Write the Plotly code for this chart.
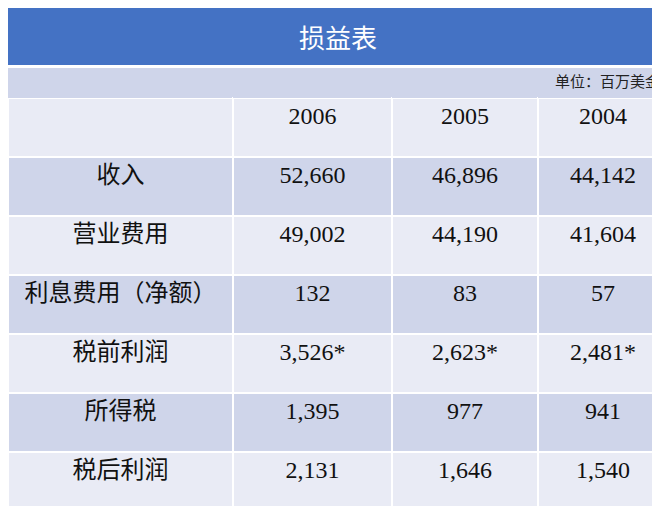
import plotly.graph_objects as go

title = "损益表"
unit = "单位：百万美金"
years = ["2006", "2005", "2004"]
items = ["收入", "营业费用", "利息费用（净额）", "税前利润", "所得税", "税后利润"]
v2006 = ["52,660", "49,002", "132", "3,526*", "1,395", "2,131"]
v2005 = ["46,896", "44,190", "83", "2,623*", "977", "1,646"]
v2004 = ["44,142", "41,604", "57", "2,481*", "941", "1,540"]

dark = "#CFD5EA"
light = "#E9EBF5"
row_fill = [light] + [dark if i % 2 == 0 else light for i in range(len(items))]

cols = [[""] + items, years[:1] + v2006, years[1:2] + v2005, years[2:] + v2004]

fig = go.Figure(go.Table(
    domain=dict(x=[0, 1], y=[0, 1 - 60 / 506]),
    columnwidth=[225, 159, 146, 130],
    header=dict(values=["", "", "", unit], height=30, fill_color=dark,
                line=dict(color=dark, width=0), align=["center", "center", "center", "right"],
                font=dict(size=15, color="#222", family="Liberation Serif, Noto Sans CJK SC")),
    cells=dict(values=cols, height=59, fill_color=[row_fill] * 4,
               line=dict(color="white", width=1.5), align="center",
               font=dict(size=24, color="#111", family="Liberation Serif, Noto Sans CJK SC")),
))

fig.add_shape(type="rect", xref="paper", yref="paper", x0=0, x1=1, y0=1 - 57 / 506, y1=1,
              fillcolor="#4472C4", line_width=0, layer="above")
fig.add_annotation(text=title, xref="paper", yref="paper", x=0.5, y=1 - 28 / 506,
                   xanchor="center", yanchor="middle", showarrow=False,
                   font=dict(size=26, color="white", family="Noto Sans CJK SC"))

fig.update_layout(width=660, height=506, margin=dict(l=0, r=0, t=0, b=0),
                  paper_bgcolor="white")
fig.write_html("out.html")
